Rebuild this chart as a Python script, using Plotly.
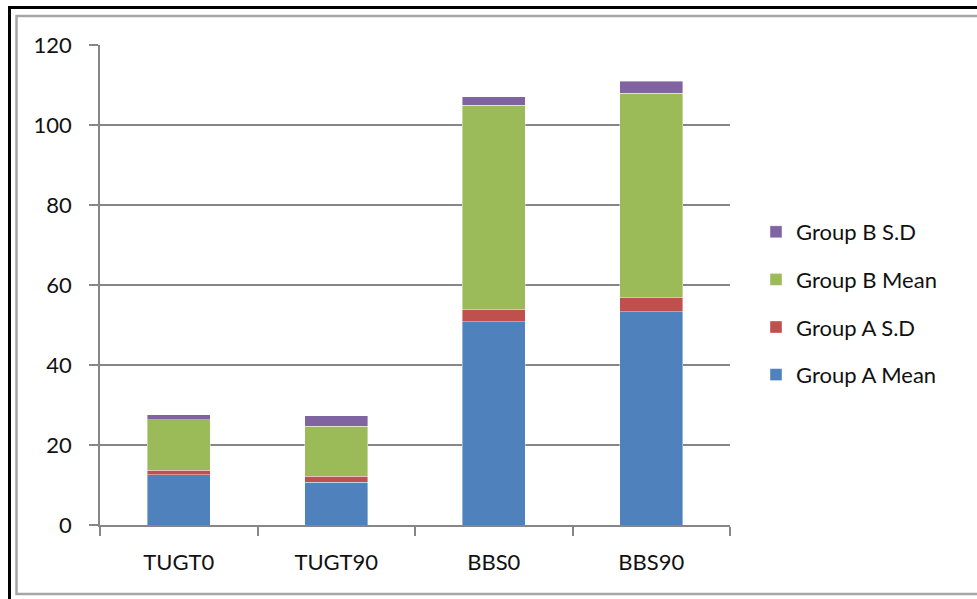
import plotly.graph_objects as go

categories = ["TUGT0", "TUGT90", "BBS0", "BBS90"]
group_a_mean = [12.6, 10.7, 50.8, 53.3]
group_a_sd = [1.1, 1.5, 3.0, 3.5]
group_b_mean = [12.6, 12.5, 51.1, 51.1]
group_b_sd = [1.3, 2.6, 2.2, 3.1]

series = [
    ("Group A Mean", group_a_mean, "#4F81BD"),
    ("Group A S.D", group_a_sd, "#C0504D"),
    ("Group B Mean", group_b_mean, "#9BBB59"),
    ("Group B S.D", group_b_sd, "#8064A2"),
]

fig = go.Figure()
for i, (name, vals, col) in enumerate(series):
    fig.add_trace(go.Bar(
        x=categories, y=vals, name=name, legendgroup=name,
        legendrank=len(series) - i,
        marker=dict(color=col, line=dict(color="rgba(255,255,255,0.5)", width=0.8)),
    ))

L, R, T, B = 100, 247, 45, 74
W, H = 977, 599
pw, ph = W - L - R, H - T - B

def px(x):
    return (x - L) / pw

def py(y):
    return (H - B - y) / ph

font = "Lato, Arial, sans-serif"
fs = 22
fig.update_layout(
    width=W, height=H,
    margin=dict(l=L, r=R, t=T, b=B, pad=0),
    barmode="stack", bargap=0.6,
    paper_bgcolor="white", plot_bgcolor="white",
    font=dict(family=font, size=fs, color="#111111"),
    showlegend=True,
    legend=dict(
        x=px(756), y=py(211), xanchor="left", yanchor="top",
        traceorder="grouped", tracegroupgap=16,
        font=dict(size=fs, family=font), itemwidth=30,
        bgcolor="rgba(0,0,0,0)",
    ),
    xaxis=dict(
        showgrid=False, showline=True, linecolor="#868686", linewidth=1.5,
        ticks="outside", ticklen=9, tickcolor="#868686", tickwidth=1.5,
        tickson="boundaries", tickfont=dict(size=fs), ticklabelstandoff=17,
        fixedrange=True,
    ),
    yaxis=dict(
        range=[0, 120], tickvals=[0, 20, 40, 60, 80, 100, 120],
        showgrid=True, gridcolor="#868686", gridwidth=1.5,
        showline=True, linecolor="#868686", linewidth=1.5,
        ticks="outside", ticklen=9, tickcolor="#868686", tickwidth=1.5,
        tickfont=dict(size=fs), ticklabelstandoff=13, zeroline=False,
        fixedrange=True,
    ),
    shapes=[
        dict(type="rect", xref="paper", yref="paper",
             x0=px(16.5), x1=px(990), y0=py(594), y1=py(16),
             line=dict(color="#A6A6A6", width=2.5), fillcolor="rgba(0,0,0,0)", layer="below"),
        dict(type="rect", xref="paper", yref="paper",
             x0=px(9.5), x1=px(995), y0=py(605), y1=py(7.5),
             line=dict(color="#000000", width=3), fillcolor="rgba(0,0,0,0)", layer="below"),
    ],
)

fig.write_html("out.html")
